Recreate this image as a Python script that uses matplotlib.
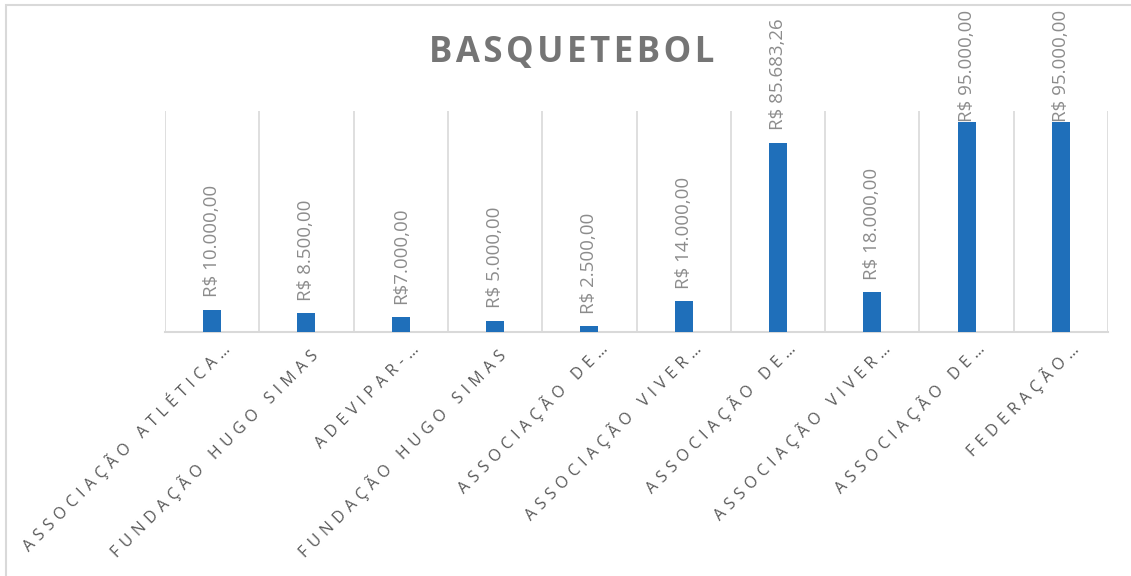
import matplotlib
matplotlib.use("Agg")
import matplotlib.pyplot as plt
import matplotlib.transforms as mtransforms
from matplotlib.patches import Rectangle

categories = [
   "ASSOCIAÇÃO ATLÉTICA…",
   "FUNDAÇÃO HUGO SIMAS ",
   "ADEVIPAR-…",
   "FUNDAÇÃO HUGO SIMAS ",
   "ASSOCIAÇÃO DE…",
   "ASSOCIAÇÃO VIVER…",
   "ASSOCIAÇÃO DE…",
   "ASSOCIAÇÃO VIVER…",
   "ASSOCIAÇÃO DE…",
   "FEDERAÇÃO…",
]
values = [10000, 8500, 7000, 5000, 2500, 14000, 85683.26, 18000, 95000, 95000]
value_labels = [
   "R$ 10.000,00", "R$ 8.500,00", "R$7.000,00", "R$ 5.000,00", "R$ 2.500,00",
   "R$ 14.000,00", "R$ 85.683,26", "R$ 18.000,00", "R$ 95.000,00", "R$ 95.000,00",
]
title = "BASQUETEBOL"

bar_color = "#1F6FBA"
grid_color = "#D9D9D9"
fonts = ["Open Sans", "DejaVu Sans"]

def spaced(s, sp):
   # excel-like letter spacing
   return sp.join(s)

W, H, DPI = 1131, 576, 100
fig = plt.figure(figsize=(W / DPI, H / DPI), dpi=DPI)
ax = fig.add_axes([165 / W, 1 - 332 / H, (1108 - 165) / W, (332 - 111) / H])

# chart frame
fig.patches.append(Rectangle((6 / W, -0.1), 1.1, 1 - 5 / H + 0.1, transform=fig.transFigure,
                             fill=False, edgecolor=grid_color, linewidth=1.5))

x = list(range(len(values)))
ax.bar(x, values, width=0.19, color=bar_color, zorder=3)
ax.set_xlim(-0.5, len(values) - 0.5)
ax.set_ylim(0, 100000)

for b in [i - 0.5 for i in range(len(values) + 1)]:
   ax.axvline(b, color=grid_color, linewidth=1.2, zorder=1)

for s in ["top", "left", "right"]:
   ax.spines[s].set_visible(False)
ax.spines["bottom"].set_color(grid_color)
ax.spines["bottom"].set_linewidth(1.5)
ax.set_yticks([])

ax.set_xticks(x)
ax.set_xticklabels([spaced(c, "\u2004") for c in categories], rotation=45, ha="right",
                   va="baseline", rotation_mode="anchor", color="#595959",
                   fontsize=11.5, family=fonts)
ax.tick_params(axis="x", length=0, pad=13)
off = mtransforms.ScaledTranslation(0.19, 0, fig.dpi_scale_trans)
for lab in ax.get_xticklabels():
   lab.set_transform(lab.get_transform() + off)

labels = []
for i, (v, t) in enumerate(zip(values, value_labels)):
   a = ax.annotate(t, (i, v), xytext=(0, 9), textcoords="offset points", rotation=90,
                   ha="center", va="bottom", color="#8C8C8C", fontsize=13.5,
                   family=fonts)
   labels.append(a)

fig.text(572 / W, 1 - 53 / H, spaced(title, "\u200a"), ha="center", va="center",
         fontsize=25, fontweight="bold", color="#757575", family=fonts)

# keep data labels inside the chart area like excel does
fig.canvas.draw()
r = fig.canvas.get_renderer()
lim = H - 10
for a in labels:
   bb = a.get_window_extent(r)
   if bb.y1 > lim:
      a.xyann = (0, 9 - (bb.y1 - lim) * 72 / DPI)

fig.savefig("out.png", dpi=DPI)
